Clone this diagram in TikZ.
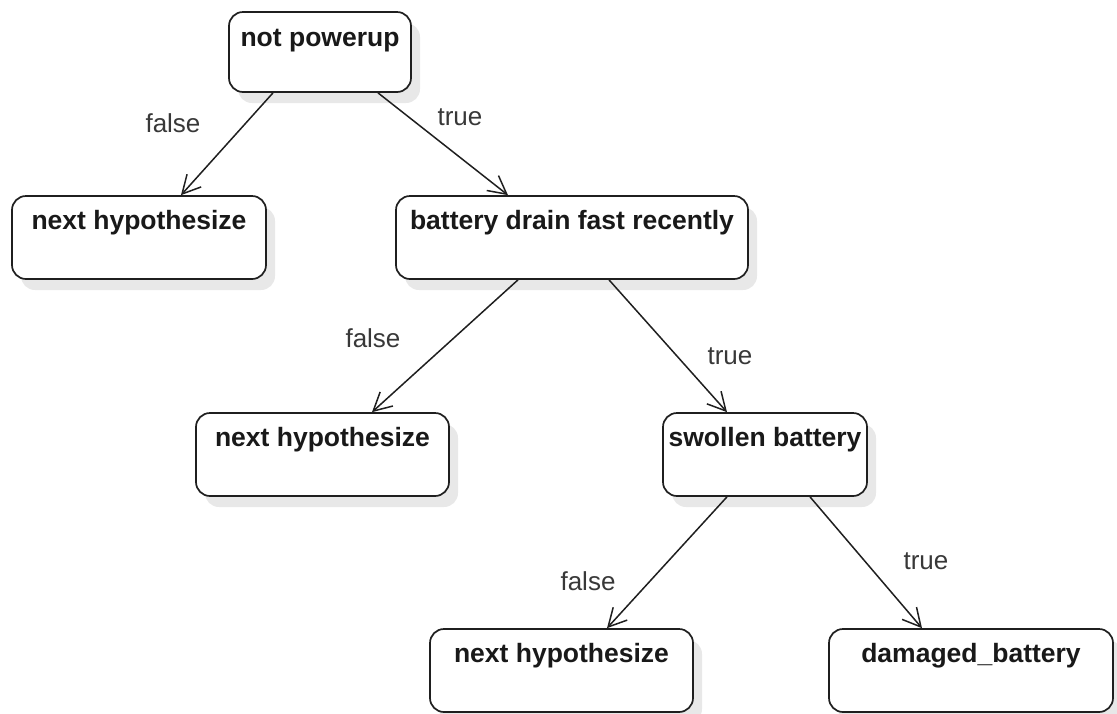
\documentclass[tikz,border=0pt]{standalone}
\usepackage{fontspec}
\setmainfont{Liberation Sans}
\usetikzlibrary{arrows.meta,shadows}
\begin{document}
\begin{tikzpicture}[x=1pt,y=-1pt,
  box/.style={draw=black!88, line width=1.7pt, rounded corners=14pt, fill=white,
    drop shadow={shadow xshift=9pt, shadow yshift=-11pt, fill=black!9, opacity=1},
    inner sep=0pt, minimum height=83pt},
  title/.style={font=\fontsize{26.5}{30}\selectfont\bfseries, text=black!90, inner sep=0pt, anchor=base},
  cond/.style={font=\fontsize{26}{30}\selectfont, text=black!78, inner sep=0pt},
  link/.style={draw=black!88, line width=1.5pt, -{Straight Barb[length=18pt,width=19pt,line width=1.5pt]}}]
\useasboundingbox (0,0) rectangle (1117,713);

% decision boxes
\node[box, minimum width=182pt, minimum height=80pt] (root) at (320,52) {};
\node[box, minimum width=254pt] (nh1) at (139,237.5) {};
\node[box, minimum width=352pt] (drain) at (572,237.5) {};
\node[box, minimum width=253pt] (nh2) at (322.5,454.5) {};
\node[box, minimum width=204pt] (swollen) at (765,454.5) {};
\node[box, minimum width=263pt] (nh3) at (561.5,670.5) {};
\node[box, minimum width=284pt] (damaged) at (971,670.5) {};

% box titles, set near the top edge
\node[title] (troot) at ([yshift=-35pt]root.north) {not powerup};
\node[title] (tnh1) at ([yshift=-34pt]nh1.north) {next hypothesize};
\node[title] (tdrain) at ([yshift=-34pt]drain.north) {battery drain fast recently};
\node[title] (tnh2) at ([yshift=-34pt]nh2.north) {next hypothesize};
\node[title] (tswollen) at ([yshift=-34pt]swollen.north) {swollen battery};
\node[title] (tnh3) at ([yshift=-34pt]nh3.north) {next hypothesize};
\node[title] (tdamaged) at ([yshift=-34pt]damaged.north) {damaged\_battery};

% branches
\draw[link] ([xshift=-47pt]root.south) -- ([xshift=42pt]nh1.north);
\draw[link] ([xshift=58pt]root.south) -- ([xshift=-64pt]drain.north);
\draw[link] ([xshift=-54pt]drain.south) -- ([xshift=49.5pt]nh2.north);
\draw[link] ([xshift=37pt]drain.south) -- ([xshift=-38pt]swollen.north);
\draw[link] ([xshift=-38pt]swollen.south) -- ([xshift=45.5pt]nh3.north);
\draw[link] ([xshift=45pt]swollen.south) -- ([xshift=-49pt]damaged.north);

% branch conditions
\node[cond] (c1) at (173,123) {false};
\node[cond] (c2) at (460,117) {true};
\node[cond] (c3) at (373,338) {false};
\node[cond] (c4) at (730,356) {true};
\node[cond] (c5) at (588,581) {false};
\node[cond] (c6) at (926,561) {true};
\end{tikzpicture}
\end{document}
